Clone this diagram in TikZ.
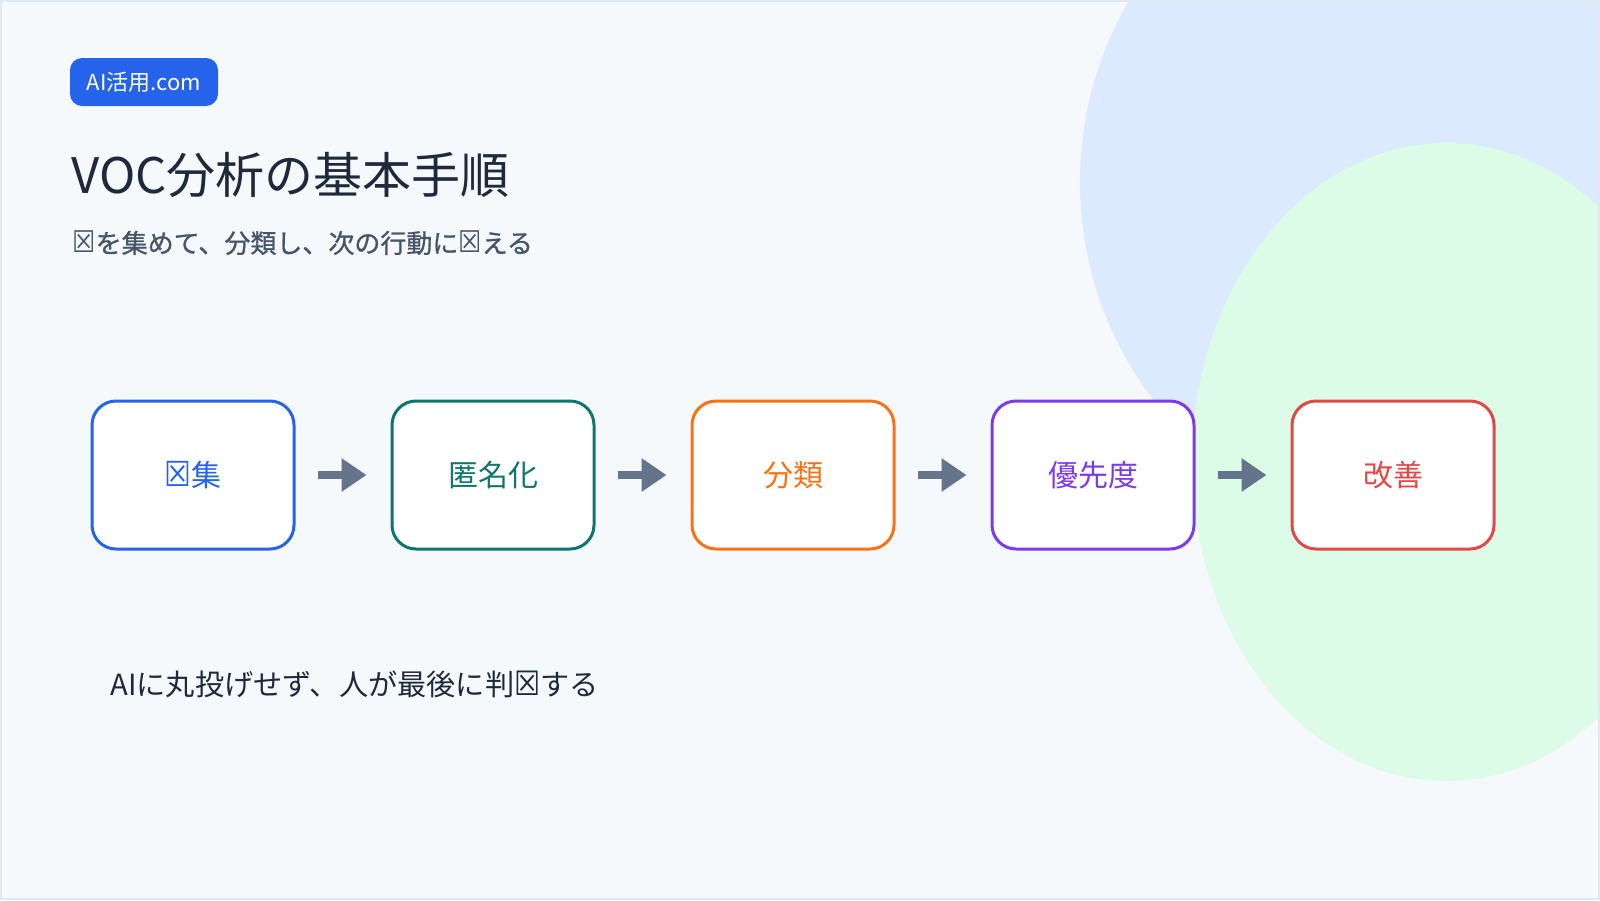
\documentclass[tikz,border=0pt]{standalone}
\usepackage{fontspec}
\setmainfont{Noto Sans CJK JP}
\newfontfamily\dejavu{DejaVu Sans}
\newfontfamily\jpheavy[FakeBold=1]{Noto Sans CJK JP}
\usepackage{graphicx}
\usepackage{xcolor}
\usepackage{tikz}
\usetikzlibrary{positioning, arrows.meta}

\definecolor{pagebg}{HTML}{F5F9FC}
\definecolor{pageline}{HTML}{E2E8F0}
\definecolor{blobblue}{HTML}{DBEAFE}
\definecolor{blobgreen}{HTML}{DCFCE7}
\definecolor{badgeblue}{HTML}{2563EB}
\definecolor{inkdark}{HTML}{1E293B}
\definecolor{inkgray}{HTML}{475569}
\definecolor{arrowgray}{HTML}{64748B}
\definecolor{stepblue}{HTML}{2563EB}
\definecolor{stepteal}{HTML}{0F766E}
\definecolor{steporange}{HTML}{F97316}
\definecolor{steppurple}{HTML}{7C3AED}
\definecolor{stepred}{HTML}{E34848}

\newcommand{\tofu}{{\dejavu\scalebox{1}[1.15]{\char"2612}}}

\begin{document}
\begin{tikzpicture}[
    x=0.5pt, y=-0.5pt,
    node distance=47.5pt,
    box/.style={rectangle, draw, fill=white, rounded corners=12pt, line width=1.5pt, minimum width=101pt, minimum height=74pt, font=\fontsize{15}{18}\selectfont},
    collect/.style={box, draw=stepblue, text=stepblue},
    anon/.style={box, draw=stepteal, text=stepteal},
    classify/.style={box, draw=steporange, text=steporange},
    priority/.style={box, draw=steppurple, text=steppurple},
    improve/.style={box, draw=stepred, text=stepred},
    arrow/.style={-{Triangle[length=12.5pt, width=16pt]}, line width=4pt, draw=arrowgray, fill=arrowgray, shorten <=11pt, shorten >=12pt},
    badge/.style={rectangle, fill=badgeblue, text=white, rounded corners=6pt, minimum width=74pt, minimum height=24pt, inner sep=0pt, font=\fontsize{11}{13}\selectfont},
    heading/.style={anchor=west, inner sep=0pt, text=inkdark, font=\fontsize{24.5}{28}\selectfont},
    lead/.style={anchor=west, inner sep=0pt, text=inkgray, font=\fontsize{13}{16}\selectfont\jpheavy},
    note/.style={anchor=west, inner sep=0pt, text=inkdark, font=\fontsize{14.6}{17}\selectfont}
]
\useasboundingbox (0,0) rectangle (1600,900);
\fill[pagebg] (0,0) rectangle (1600,900);

% background blobs
\begin{scope}
  \clip (0,0) rectangle (1600,900);
  \fill[blobblue] (1440,182) circle [radius=180pt];
  \fill[blobgreen] (1446,462) ellipse [x radius=127pt, y radius=159.5pt];
\end{scope}
\draw[pageline, line width=1pt] (1,1) rectangle (1599,899);

% header
\node[badge] (badge) at (144,82) {AI活用.com};
\node[heading] (title) at (71,175) {VOC分析の基本手順};
\node[lead] (lead) at (72,243) {\tofu を集めて、分類し、次の行動に\tofu える};

% steps
\node[collect] (collect) at (193,475) {\tofu 集};
\node[anon, right=of collect] (anon) {匿名化};
\node[classify, right=of anon] (classify) {分類};
\node[priority, right=of classify] (priority) {優先度};
\node[improve, right=of priority] (improve) {改善};

\draw[arrow] (collect) -- (anon);
\draw[arrow] (anon) -- (classify);
\draw[arrow] (classify) -- (priority);
\draw[arrow] (priority) -- (improve);

\node[note] (note) at (110,684) {AIに丸投げせず、人が最後に判\tofu する};
\end{tikzpicture}
\end{document}
